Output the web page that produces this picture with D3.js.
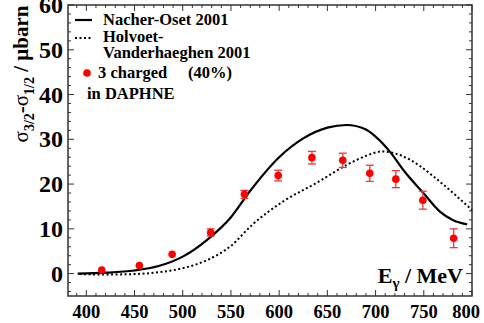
<!DOCTYPE html>
<html>
<head>
<meta charset="utf-8">
<script src="https://cdn.jsdelivr.net/npm/d3@7"></script>
<style>
  body { margin: 0; background: #fff; }
</style>
</head>
<body>
<svg id="chart" width="484" height="323"></svg>
<script>
// data points, 3 charged (40%) in DAPHNE
var energies = [416, 455, 489, 529, 564, 599, 634, 666, 694, 721, 749, 781];
var sigmaDiff = [0.8, 1.8, 4.3, 9.2, 17.7, 21.9, 25.9, 25.3, 22.4, 21.1, 16.4, 7.9];
var sigmaErr = [0.3, 0.3, 0.4, 0.8, 0.9, 1.2, 1.4, 1.6, 1.8, 1.9, 2.0, 2.1];

// Nacher-Oset 2001
var nacherE = [391, 420, 450, 475, 500, 525, 550, 570, 600, 625, 650, 670, 690, 700, 715, 730, 750, 767, 780, 795];
var nacherS = [0, 0.2, 0.7, 1.7, 3.8, 7.5, 12.6, 18.5, 26.0, 30.2, 32.6, 33.2, 32.2, 30.6, 27.2, 22.8, 17.9, 13.8, 12.0, 11.0];

// Holvoet-Vanderhaeghen 2001
var holvoetE = [393, 420, 450, 475, 500, 525, 550, 572, 604, 639, 673, 690, 707, 725, 745, 760, 781, 800];
var holvoetS = [-0.1, -0.2, -0.1, 0.3, 1.2, 3.0, 6.2, 10.9, 16.1, 20.3, 24.6, 26.3, 27.3, 26.5, 24.2, 21.7, 17.9, 14.2];

var xTicks = [400, 450, 500, 550, 600, 650, 700, 750, 800];
var yTicks = [0, 10, 20, 30, 40, 50, 60];

var fontName = "Liberation Serif";
var svg = d3.select("#chart");
var plotLeft = 68, plotRight = 472, plotTop = 5, plotBottom = 296;

var x = d3.scaleLinear().domain([381, 800]).range([plotLeft, plotRight]);
var y = d3.scaleLinear().domain([-5, 60]).range([plotBottom, plotTop]);

var frameColor = "#333";

var addText = function(parent, px, py, size, str) {
  return parent.append("text")
    .attr("x", px).attr("y", py)
    .style("font-family", fontName).style("font-weight", "bold")
    .attr("font-size", size)
    .text(str);
};

// ticks, all pointing inwards
var xMinor = d3.range(390, 801, 10);
var yMinor = d3.range(-4, 61, 2);

var ticks = svg.append("g").attr("stroke", frameColor).attr("stroke-width", 1);
xMinor.forEach(function(v) {
  var len = (v % 50 === 0) ? 6 : 3;
  ticks.append("line").attr("x1", x(v)).attr("x2", x(v)).attr("y1", plotBottom).attr("y2", plotBottom - len);
  ticks.append("line").attr("x1", x(v)).attr("x2", x(v)).attr("y1", plotTop).attr("y2", plotTop + len);
});
yMinor.forEach(function(v) {
  var len = (v % 10 === 0) ? 6 : 3;
  ticks.append("line").attr("x1", plotLeft).attr("x2", plotLeft + len).attr("y1", y(v)).attr("y2", y(v));
  ticks.append("line").attr("x1", plotRight).attr("x2", plotRight - len).attr("y1", y(v)).attr("y2", y(v));
});

svg.append("rect")
  .attr("x", plotLeft).attr("y", plotTop)
  .attr("width", plotRight - plotLeft).attr("height", plotBottom - plotTop)
  .attr("fill", "none").attr("stroke", frameColor).attr("stroke-width", 1.5);

// tick labels (last one pulled in so it stays on the page)
var xLabels = svg.append("g");
xTicks.forEach(function(d) {
  addText(xLabels, Math.min(x(d), 466), 318, 18.5, d).attr("text-anchor", "middle");
});
var yLabels = svg.append("g");
yTicks.forEach(function(d) {
  addText(yLabels, 63, y(d) + 8, 24, d).attr("text-anchor", "end");
});

// curves
var line = d3.line().curve(d3.curveMonotoneX);

svg.append("path")
  .attr("d", line(holvoetE.map(function(e, i) { return [x(e), y(holvoetS[i])]; })))
  .attr("fill", "none").attr("stroke", "#000").attr("stroke-width", 2)
  .attr("stroke-dasharray", "2,2.5");

svg.append("path")
  .attr("d", line(nacherE.map(function(e, i) { return [x(e), y(nacherS[i])]; })))
  .attr("fill", "none").attr("stroke", "#000").attr("stroke-width", 2.2);

// data points with error bars
var pts = svg.append("g");
energies.forEach(function(e, i) {
  var cx = x(e);
  var lo = y(sigmaDiff[i] - sigmaErr[i]), hi = y(sigmaDiff[i] + sigmaErr[i]);
  pts.append("line").attr("x1", cx).attr("x2", cx).attr("y1", lo).attr("y2", hi)
    .attr("stroke", "#e83a3a").attr("stroke-width", 1.3);
  if (sigmaErr[i] > 0.5) {
    pts.append("line").attr("x1", cx - 4).attr("x2", cx + 4).attr("y1", lo).attr("y2", lo)
      .attr("stroke", "#e83a3a").attr("stroke-width", 1.3);
    pts.append("line").attr("x1", cx - 4).attr("x2", cx + 4).attr("y1", hi).attr("y2", hi)
      .attr("stroke", "#e83a3a").attr("stroke-width", 1.3);
  }
  pts.append("circle").attr("cx", cx).attr("cy", y(sigmaDiff[i])).attr("r", 3.8).attr("fill", "#f00");
});

// legend
var lg = svg.append("g");
lg.append("line").attr("x1", 75).attr("x2", 92).attr("y1", 20).attr("y2", 20)
  .attr("stroke", "#000").attr("stroke-width", 2.2);
lg.append("line").attr("x1", 75).attr("x2", 92).attr("y1", 38).attr("y2", 38)
  .attr("stroke", "#000").attr("stroke-width", 2).attr("stroke-dasharray", "2,2.5");
lg.append("circle").attr("cx", 87).attr("cy", 73).attr("r", 3.8).attr("fill", "#f00");
addText(lg, 103, 25, 16.5, "Nacher-Oset 2001");
addText(lg, 103, 42, 16.5, "Holvoet-");
addText(lg, 103, 58, 16.5, "Vanderhaeghen 2001");
addText(lg, 98, 78, 16.5, "3 charged");
addText(lg, 188, 78, 16.5, "(40%)");
addText(lg, 87, 99, 16.5, "in DAPHNE");

// axis titles
var xt = addText(svg, 463, 283, 22, null).attr("text-anchor", "end");
xt.append("tspan").text("E");
xt.append("tspan").attr("font-size", 15).attr("dy", 5).text("\u03b3");
xt.append("tspan").attr("dy", -5).text(" / MeV");

var yt = addText(svg, 0, 0, 21, null)
  .attr("transform", "translate(28,74) rotate(-90)")
  .attr("text-anchor", "middle");
yt.append("tspan").style("font-weight", "normal").text("\u03c3");
yt.append("tspan").attr("font-size", 14).attr("dy", 6).text("3/2");
yt.append("tspan").attr("dy", -6).text("-");
yt.append("tspan").style("font-weight", "normal").text("\u03c3");
yt.append("tspan").attr("font-size", 14).attr("dy", 6).text("1/2");
yt.append("tspan").attr("dy", -6).text(" / \u03bcbarn");
</script>
</body>
</html>
